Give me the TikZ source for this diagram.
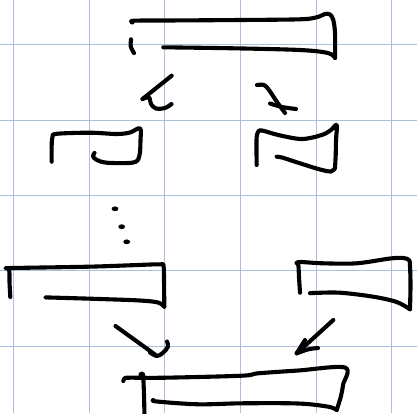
\documentclass[tikz,border=0pt]{standalone}
\usetikzlibrary{calc}
\definecolor{gridblue}{RGB}{172,192,222}
\tikzset{
  ink/.style={line width=4.1pt, line cap=round, line join=round, black},
  gridline/.style={line width=0.9pt, gridblue},
  sm/.style={smooth, tension=0.55}
}
\begin{document}
\begin{tikzpicture}[x=1pt,y=-1pt]
\useasboundingbox (0,0) rectangle (417,413);
\fill[white] (0,0) rectangle (417,413);
\begin{scope}
\clip (0,0) rectangle (417,413);
% grid
\foreach \gx in {13.3,89,164.5,240.3,316,391.7} \draw[gridline] (\gx,0) -- (\gx,413);
\foreach \gy in {44,120,195.3,270.8,346.3} \draw[gridline] (0,\gy) -- (417,\gy);

% top box
\draw[ink] plot[sm] coordinates {(132.5,22.5) (133.5,20.7) (166.7,20.5) (240,20) (300,19.3) (316.7,17.3) (325,14) (330,14.5) (333.3,20) (335,33.3) (335,58)};
\draw[ink] plot[sm] coordinates {(163.3,47.3) (233.3,48.3) (300,50) (328,53) (335,58)};
\draw[ink] plot[sm] coordinates {(131,39.3) (130.8,46.7) (134,53)};

% arrow top-left
\draw[ink] (171.7,75.7) -- (142.5,99);
\draw[ink] plot[sm] coordinates {(142.5,99) (149,97.5) (151,104) (156,108.5) (165,108) (171.5,104)};
% arrow top-right
\draw[ink] plot[sm] coordinates {(257,85) (264,85) (269,90) (277,102) (285,113)};
\draw[ink] plot[sm] coordinates {(270,103.5) (282,107) (296,109)};

% row 2 left box
\draw[ink] plot[sm] coordinates {(51.7,161.7) (51.7,145) (52.5,137) (56.7,133.8) (90,132.7) (116.7,134) (130,132.5) (140,128.3) (140.5,140) (139.3,156) (133.3,162.5) (106.7,162.7) (96,159.5) (93,156) (94.5,153)};

% row 2 right box
\draw[ink] plot[sm] coordinates {(256.7,165) (256.5,140) (258,132) (262,130.5) (278.3,135) (301.7,139) (321.7,135) (331,130) (336.7,125) (336,140) (335.7,155) (335,168)};
\draw[ink] plot[sm] coordinates {(276.7,156.7) (282,157.5) (295,161.7) (318.3,169) (331,171.5) (335,168)};

% dots
\fill (115,208.8) ellipse (3.4 and 2.4);
\fill (121.7,226.7) ellipse (3.4 and 2.4);
\fill (126.7,241.8) ellipse (3.4 and 2.4);

% row 3 left box
\draw[ink] plot[sm] coordinates {(10.3,297) (9.5,282) (9.3,271) (7.3,268)};
\draw[ink] plot[sm] coordinates {(8,268.3) (12,268) (88,266.7) (130,265.3) (160,264.3) (163.5,266) (164,280) (164.3,306.7)};
\draw[ink] plot[sm] coordinates {(46.7,297.5) (50,297.5) (100,299) (140,300.5) (158,302.5) (164.3,306.7)};

% row 3 right box
\draw[ink] plot[sm] coordinates {(300,292.7) (299,277) (298.3,265) (296.5,263)};
\draw[ink] plot[sm] coordinates {(297,263) (300.5,262) (323.3,263.3) (356.7,263.3) (390,258.5) (403,258) (409,260) (410,266) (410.5,285) (410,309)};
\draw[ink] plot[sm] coordinates {(310,293.3) (313,293) (340,292.7) (373.3,296.7) (396.7,302) (410,309.3)};

% arrow lower-left
\draw[ink] (115.5,326) -- (155,354.5);
\draw[ink] plot[sm] coordinates {(150,352.5) (157,356) (163.3,352.5) (168,346.5) (167,341.5)};
% arrow lower-right
\draw[ink] (333.3,320) -- (296.7,353.3);
\draw[ink] (296.7,353.3) -- (305,340);
\draw[ink] plot[sm] coordinates {(296.7,353.3) (308.3,349.3) (318,348)};

% bottom box
\draw[ink] plot[sm] coordinates {(123.3,381) (124.5,378.5) (129,377.7) (165,377.7) (241.7,375.7) (258.3,373.3) (298.3,370.5) (345,367.5) (343,385) (341,396) (336.7,410)};
\draw[ink] plot[sm] coordinates {(140.5,374.5) (142.5,373.5) (143.3,378) (144,395) (144.5,416)};
\draw[ink] plot[sm] coordinates {(153.3,400) (157,401.5) (198.3,404.3) (241.7,403.3) (298.3,403.5) (328.3,406.7) (336.7,410)};
\end{scope}
\end{tikzpicture}
\end{document}
